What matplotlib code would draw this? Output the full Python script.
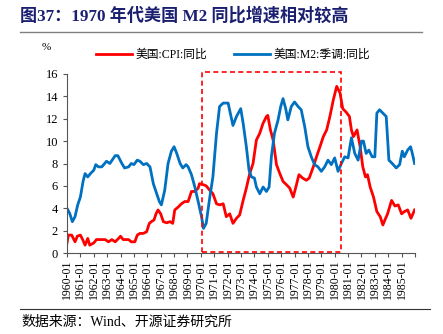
import matplotlib
matplotlib.use('Agg')
import matplotlib.pyplot as plt
from matplotlib.patches import Rectangle

plt.rcParams['font.family'] = ['Liberation Serif', 'Noto Sans CJK SC']
plt.rcParams['axes.unicode_minus'] = False

# 美国 CPI 同比 (%), sampled from the chart
cpi_t = [1960.0, 1960.1, 1960.35, 1960.6, 1960.77, 1961.0, 1961.17, 1961.35, 1961.55, 1961.7,
         1962.0, 1962.2, 1962.45, 1962.85, 1963.1, 1963.35, 1963.6, 1963.85, 1964.0, 1964.2,
         1964.6, 1964.8, 1965.07, 1965.25, 1965.45, 1965.7, 1965.95, 1966.15, 1966.3, 1966.5,
         1966.65, 1966.8, 1967.0, 1967.2, 1967.45, 1967.7, 1967.9, 1968.05, 1968.3, 1968.55,
         1968.8, 1969.05, 1969.3, 1969.55, 1969.8, 1969.9, 1970.2, 1970.4, 1970.67, 1970.9,
         1971.17, 1971.4, 1971.67, 1971.9, 1972.16, 1972.4, 1972.66, 1972.9, 1973.16, 1973.4,
         1973.65, 1973.9, 1974.15, 1974.4, 1974.65, 1974.9, 1975.0, 1975.2, 1975.4, 1975.65,
         1975.9, 1976.14, 1976.4, 1976.64, 1976.9, 1977.1, 1977.33, 1977.6, 1977.88, 1978.1,
         1978.4, 1978.64, 1978.9, 1979.15, 1979.4, 1979.64, 1979.9, 1980.15, 1980.4, 1980.6,
         1980.85, 1981.1, 1981.25, 1981.4, 1981.67, 1981.9, 1982.1, 1982.3, 1982.45, 1982.65,
         1982.9, 1983.15, 1983.4, 1983.6, 1983.75, 1983.95, 1984.25, 1984.5, 1984.75, 1985.0,
         1985.2, 1985.45, 1985.7, 1985.97]
cpi = [0.9, 1.6, 1.6, 1.0, 1.5, 1.6, 1.2, 0.7, 1.3, 0.7,
       0.9, 1.2, 1.2, 1.2, 1.0, 1.2, 1.0, 1.3, 1.5, 1.2,
       1.2, 1.0, 1.0, 1.6, 1.75, 1.75, 1.9, 2.65, 2.8, 2.95,
       3.5, 3.85, 3.5, 2.8, 2.7, 2.8, 2.65, 3.85, 4.1, 4.4,
       4.6, 4.6, 5.5, 5.5, 5.8, 6.2, 6.1, 6.0, 5.6, 5.3,
       4.4, 4.3, 4.4, 3.25, 3.5, 2.65, 3.1, 3.4, 4.7, 5.8,
       7.1, 8.0, 10.1, 10.7, 11.6, 12.2, 12.3, 11.0, 10.1, 7.9,
       7.1, 6.4, 6.1, 5.8, 5.0, 5.9, 7.0, 6.7, 6.5, 6.7,
       7.7, 8.6, 9.5, 10.4, 11.0, 12.2, 13.7, 14.9, 14.3, 12.9,
       12.6, 12.2, 11.0, 10.4, 11.0, 9.5, 7.7, 6.8, 7.0, 5.9,
       5.0, 3.7, 3.25, 2.5, 2.95, 3.5, 4.7, 4.2, 4.3, 3.5,
       3.7, 3.85, 3.1, 3.85]

# 美国 M2 季调 同比 (%)
m2_t = [1960.0, 1960.2, 1960.4, 1960.6, 1960.8, 1961.0, 1961.2, 1961.35, 1961.55, 1961.75,
        1962.0, 1962.15, 1962.35, 1962.6, 1962.95, 1963.2, 1963.6, 1963.8, 1964.1, 1964.3,
        1964.6, 1964.8, 1965.0, 1965.25, 1965.45, 1965.7, 1965.95, 1966.2, 1966.45, 1966.7,
        1966.9, 1967.05, 1967.3, 1967.55, 1967.8, 1968.0, 1968.2, 1968.45, 1968.65, 1968.9,
        1969.05, 1969.3, 1969.55, 1969.8, 1970.05, 1970.2, 1970.4, 1970.67, 1970.9, 1971.17,
        1971.4, 1971.67, 1972.04, 1972.2, 1972.4, 1972.66, 1972.98, 1973.16, 1973.4, 1973.6,
        1973.78, 1974.0, 1974.15, 1974.4, 1974.65, 1974.9, 1975.1, 1975.27, 1975.5, 1975.77,
        1975.97, 1976.14, 1976.34, 1976.5, 1976.76, 1977.0, 1977.26, 1977.5, 1977.76, 1978.0,
        1978.25, 1978.5, 1978.75, 1979.0, 1979.25, 1979.5, 1979.75, 1980.0, 1980.25, 1980.5,
        1980.75, 1981.0, 1981.25, 1981.5, 1981.75, 1982.0, 1982.15, 1982.35, 1982.55, 1982.8,
        1983.0, 1983.15, 1983.35, 1983.6, 1983.85, 1984.05, 1984.3, 1984.6, 1984.85, 1985.05,
        1985.2, 1985.45, 1985.67, 1985.8, 1985.97]
m2 = [4.0, 3.55, 2.8, 3.25, 4.3, 5.0, 6.4, 7.1, 6.8, 7.1,
      7.4, 7.9, 7.7, 7.7, 8.2, 8.0, 8.7, 8.7, 8.0, 7.6,
      7.7, 8.0, 7.9, 8.3, 8.2, 7.9, 8.0, 7.7, 6.2, 5.3,
      4.6, 4.3, 5.6, 8.0, 9.1, 9.5, 8.9, 8.0, 7.6, 7.9,
      7.7, 7.0, 5.9, 4.6, 3.25, 2.2, 2.65, 5.0, 6.8, 10.7,
      13.1, 13.4, 13.4, 12.5, 11.4, 12.2, 12.9, 11.6, 9.5, 7.4,
      6.8, 6.7, 5.9, 5.3, 5.9, 5.5, 5.9, 8.6, 10.7, 11.9,
      13.1, 13.8, 12.9, 11.9, 13.1, 13.5, 13.1, 12.8, 11.3, 9.5,
      8.6, 7.9, 7.7, 7.3, 7.7, 8.3, 7.9, 8.5, 7.3, 8.0,
      8.6, 8.5, 10.3, 8.9, 8.3, 10.0, 10.0, 8.9, 9.2, 8.6,
      8.6, 12.5, 12.8, 12.5, 12.2, 8.3, 8.0, 7.6, 7.9, 9.1,
      8.6, 9.2, 9.5, 8.9, 8.0]

years = list(range(1960, 1987))
year_labels = ['%d-01' % y for y in years[:-1]] + ['']

W, H = 443, 334
fig = plt.figure(figsize=(W / 100, H / 100), dpi=100)
ax = fig.add_axes([67 / W, 1 - 253 / H, (415 - 67) / W, (253 - 74) / H])

cpi_line, = ax.plot(cpi_t, cpi, color='#ff0000', lw=2.0)
m2_line, = ax.plot(m2_t, m2, color='#0070c0', lw=2.0)

ax.add_patch(Rectangle((1970.05, 0.1), 1980.45 - 1970.05, 16.1, fill=False,
                       edgecolor='#ff0000', ls=(0, (3, 2)), lw=1.2, clip_on=False, zorder=5))

ax.set_xlim(1960, 1986)
ax.set_ylim(0, 16)
ax.set_yticks(range(0, 17, 2))
ax.set_xticks(years)
ax.set_xticklabels(year_labels, rotation=90, fontsize=8.5)
ax.tick_params(axis='y', labelsize=9, length=3, color='#555555')
ax.tick_params(axis='x', length=3, color='#555555', pad=2)
for s in ['top', 'right']:
    ax.spines[s].set_visible(False)
for s in ['left', 'bottom']:
    ax.spines[s].set_color('#555555')

fig.text(46 / W, 1 - 48 / H, '%', fontsize=8, ha='center', va='center')
ax.legend([cpi_line, m2_line], ['美国:CPI:同比', '美国:M2:季调:同比'], ncol=2,
          loc='center', bbox_to_anchor=(233 / W, 1 - 55 / H), bbox_transform=fig.transFigure,
          frameon=False, fontsize=8.5, handlelength=3.0, columnspacing=2.3, handletextpad=0.3)

fig.text(20 / W, 1 - 16 / H, '图37：1970 年代美国 M2 同比增速相对较高', fontsize=12.3,
         fontweight='bold', color='#1a1f70', ha='left', va='center',
         family=['Liberation Serif', 'Noto Sans CJK SC'])
fig.add_artist(plt.Line2D([20 / W, 422 / W], [1 - 32 / H, 1 - 32 / H], color='#808080', lw=1))
fig.add_artist(plt.Line2D([20 / W, 430 / W], [1 - 309 / H, 1 - 309 / H], color='#333333', lw=0.8))
fig.text(21 / W, 1 - 322 / H, '数据来源：Wind、开源证券研究所', fontsize=10, ha='left', va='center')

fig.savefig('out.png', dpi=100)
